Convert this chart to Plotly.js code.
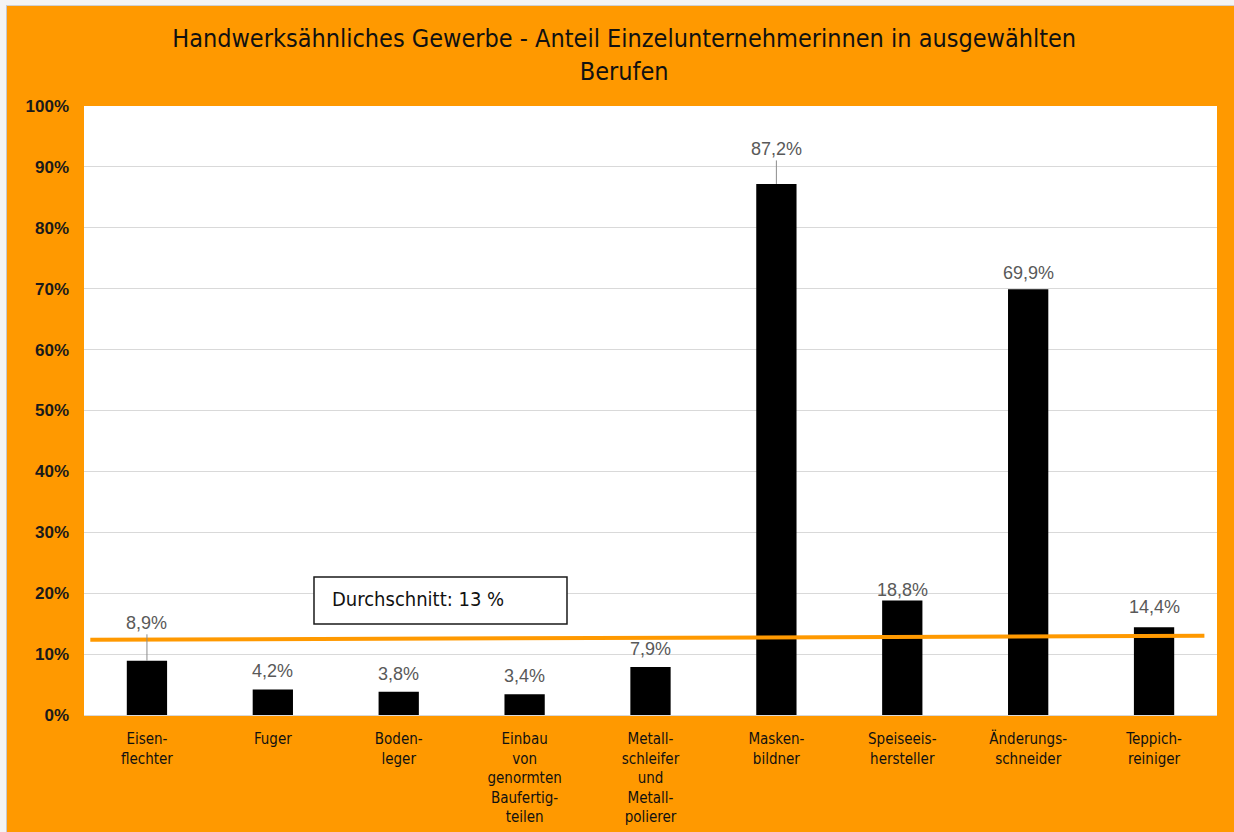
<!DOCTYPE html>
<html>
<head>
<meta charset="utf-8">
<script src="https://cdn.plot.ly/plotly-3.0.1.min.js"></script>
<style>
  html, body { margin: 0; padding: 0; background: #f4f4f4; }
  #wrap { position: absolute; left: 6px; top: 5px; width: 1228px; height: 827px;
          border-left: 1px solid #c8c8c8; border-top: 1px solid #d0d0d0; }
  #chart { width: 1227px; height: 826px; }
</style>
</head>
<body>
<div id="wrap"><div id="chart"></div></div>
<script>
// ---- data ----
const categories = [
  "Eisen-<br>flechter",
  "Fuger",
  "Boden-<br>leger",
  "Einbau<br>von<br>genormten<br>Baufertig-<br>teilen",
  "Metall-<br>schleifer<br>und<br>Metall-<br>polierer",
  "Masken-<br>bildner",
  "Speiseeis-<br>hersteller",
  "Änderungs-<br>schneider",
  "Teppich-<br>reiniger"
];
const shares = [8.9, 4.2, 3.8, 3.4, 7.9, 87.2, 18.8, 69.9, 14.4];
const averageText = "Durchschnitt: 13 %";
const averageLine = [12.35, 13.0];   // hand-drawn line, left end / right end
const titleText = "Handwerksähnliches Gewerbe - Anteil Einzelunternehmerinnen in ausgewählten<br>Berufen";

// ---- style ----
const ORANGE = "#FF9900";
const condensed = "'DejaVu Sans Condensed', 'Liberation Sans', sans-serif";
const leader = [true, false, false, false, false, true, false, false, false];
const leaderLen = [-38, 0, 0, 0, 0, -35, 0, 0, 0];
const labelShift = [0, 6, 6, 6, 6, 0, -1, 4, 8];

const fmt = v => v.toFixed(1).replace(".", ",") + "%";

const annotations = shares.map((v, i) => {
  const a = {
    x: i, y: v, xref: "x", yref: "y",
    text: fmt(v),
    font: { family: "'Liberation Sans', Arial, sans-serif", size: 18, color: "#595959" },
    showarrow: leader[i]
  };
  if (leader[i]) {
    Object.assign(a, { ax: 0, ay: leaderLen[i], arrowhead: 0, arrowwidth: 1, arrowcolor: "#8c8c8c", standoff: 0 });
  } else {
    Object.assign(a, { yanchor: "bottom", yshift: labelShift[i] });
  }
  return a;
});

annotations.push({
  xref: "paper", yref: "paper", x: 0.2171, y: 0.1905,
  xanchor: "left", yanchor: "middle",
  text: averageText, showarrow: false,
  font: { family: condensed, size: 20, color: "#111111" }
});

const trace = {
  type: "bar",
  x: categories,
  y: shares,
  marker: { color: "#000000" },
  width: 0.32,
  hoverinfo: "skip"
};

const layout = {
  width: 1227, height: 826,
  paper_bgcolor: ORANGE,
  plot_bgcolor: "#ffffff",
  margin: { l: 77, r: 17, t: 100, b: 117 },
  showlegend: false,
  title: {
    text: titleText,
    x: 0.503, xanchor: "center",
    y: 0.95, yanchor: "top",
    font: { family: condensed, size: 25, color: "#111111" }
  },
  xaxis: {
    type: "category",
    tickfont: { family: condensed, size: 15, color: "#111111" },
    ticklabelstandoff: 10,
    showline: true, linecolor: "#d9d9d9", linewidth: 1,
    ticks: "", showgrid: false,
    fixedrange: true
  },
  yaxis: {
    range: [0, 100],
    dtick: 10,
    ticksuffix: "%",
    tickfont: { family: "'Liberation Sans', Arial, sans-serif", size: 17, color: "#1a1a1a", weight: "bold" },
    ticklabelstandoff: 14,
    gridcolor: "#d9d9d9", gridwidth: 1,
    zeroline: false,
    ticks: "",
    fixedrange: true
  },
  shapes: [
    {
      type: "rect", xref: "paper", yref: "paper",
      x0: 0.203, x1: 0.4263, y0: 0.1494, y1: 0.2266,
      fillcolor: "#ffffff", line: { color: "#1a1a1a", width: 1.5 }
    },
    {
      type: "line", xref: "x", yref: "y",
      x0: -0.45, x1: 8.4, y0: averageLine[0], y1: averageLine[1],
      line: { color: ORANGE, width: 4 }
    }
  ],
  annotations: annotations
};

Plotly.newPlot("chart", [trace], layout, { displayModeBar: false, staticPlot: true });
</script>
</body>
</html>
